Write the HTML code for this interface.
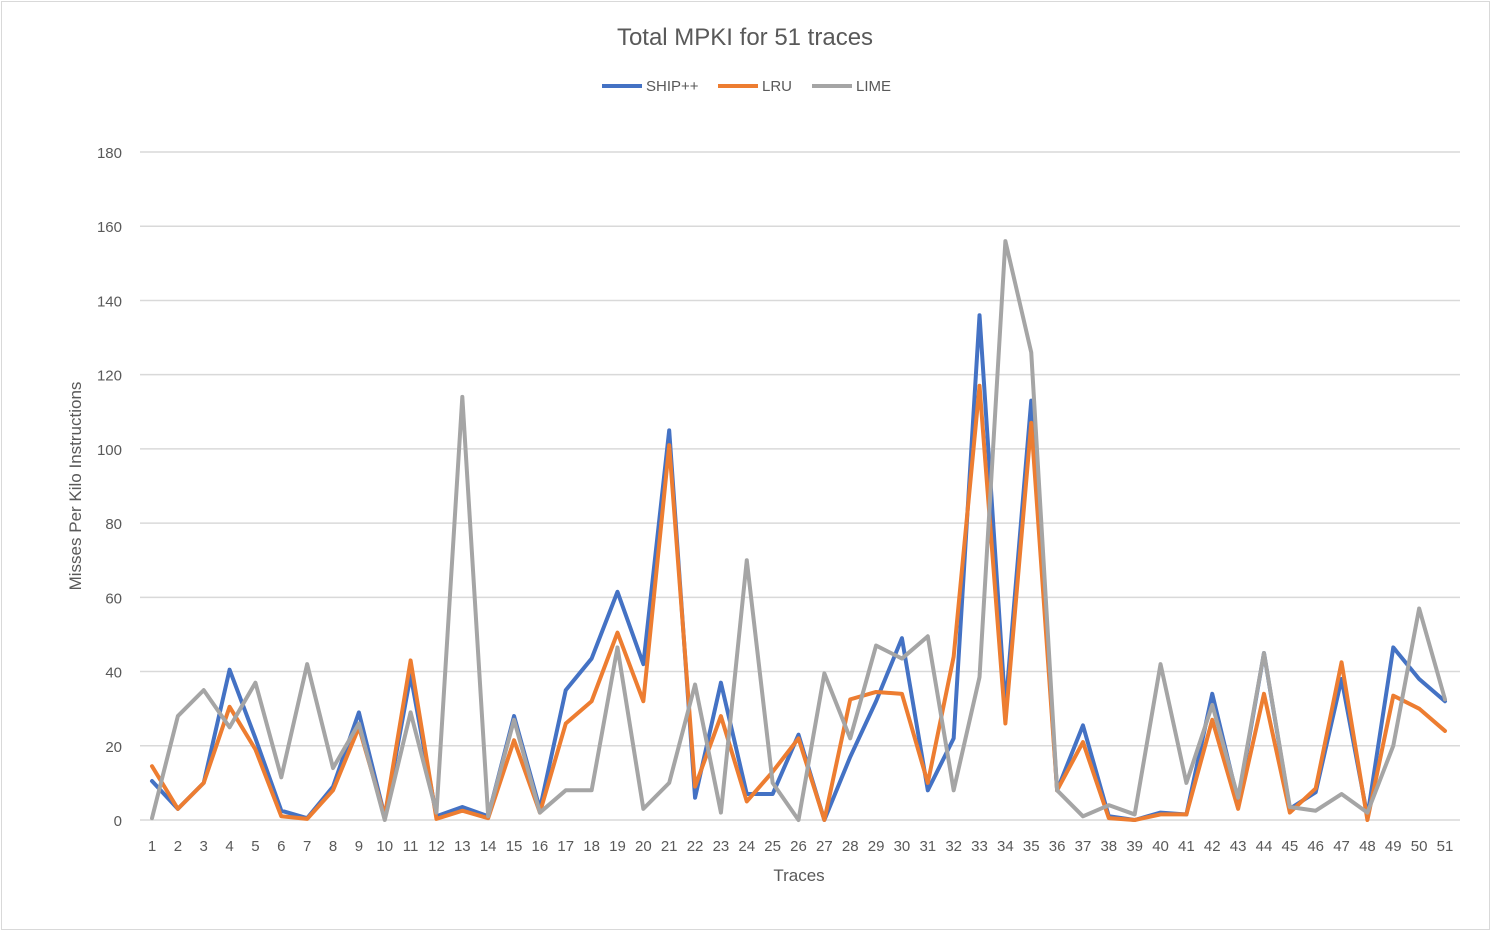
<!DOCTYPE html>
<html><head><meta charset="utf-8"><style>
body{margin:0;background:#fff;font-family:"Liberation Sans",sans-serif;}
svg text{font-family:"Liberation Sans",sans-serif;fill:#595959;}
</style></head><body>
<svg id="c" width="1491" height="931">
<rect x="1.5" y="1.5" width="1488" height="928" fill="#fff" stroke="#d9d9d9"/>
<text x="745" y="45" font-size="24" text-anchor="middle">Total MPKI for 51 traces</text>
<g id="grid"></g>
<g id="yt"></g>
<g id="xt"></g>
<g id="lines"></g>
<text x="0" y="0" font-size="17" text-anchor="middle" transform="translate(81,486) rotate(-90)">Misses Per Kilo Instructions</text>
<text x="799" y="881" font-size="17" text-anchor="middle">Traces</text>
<g>
<g><line x1="602" y1="86" x2="642" y2="86" stroke="#4472c4" stroke-width="4"/><text x="646" y="91" font-size="15">SHIP++</text></g>
<g><line x1="718" y1="86" x2="758" y2="86" stroke="#ed7d31" stroke-width="4"/><text x="762" y="91" font-size="15">LRU</text></g>
<g><line x1="812" y1="86" x2="852" y2="86" stroke="#a5a5a5" stroke-width="4"/><text x="856" y="91" font-size="15">LIME</text></g>
</g>
</svg>
<script>
const categories = Array.from({length:51},(_,i)=>String(i+1));
const yTicks = [0,20,40,60,80,100,120,140,160,180];
const shipValues = [10.5,3,10,40.5,22,2.5,0.5,9,29,1,39,1,3.5,1,28,3,35,43.5,61.5,42,105,6,37,7,7,23,0,17,32,49,8,22,136,30,113,8,25.5,1,0,2,1.5,34,5,45,3,7.5,38,1,46.5,38,32];
const lruValues = [14.5,3,10,30.5,19,1,0.3,8,25,1,43,0.3,2.5,0.5,21.5,2,26,32,50.5,32,101,9,28,5,13,22,0,32.5,34.5,34,10,44,117,26,107,8,21,0.5,0,1.5,1.5,27,3,34,2,8.5,42.5,0,33.5,30,24];
const limeValues = [0.5,28,35,25,37,11.5,42,14,26,0,29,2,114,1,27,2,8,8,46.5,3,10,36.5,2,70,10,0,39.5,22,47,43.5,49.5,8,38.5,156,126,8,1,4,1.5,42,10,31,6,45,3.5,2.5,7,2,20,57,32.5];
const NS="http://www.w3.org/2000/svg";
const x0=152,x1=1445,yb=820,yTop=152,yMax=180;
const xs=i=>x0+i*(x1-x0)/(categories.length-1);
const ys=v=>yb-v*(yb-yTop)/yMax;
const grid=document.getElementById('grid'),yt=document.getElementById('yt'),xt=document.getElementById('xt'),lines=document.getElementById('lines');
yTicks.forEach(t=>{
  const l=document.createElementNS(NS,'line');
  l.setAttribute('x1',140);l.setAttribute('x2',1460);l.setAttribute('y1',ys(t));l.setAttribute('y2',ys(t));
  l.setAttribute('stroke','#d9d9d9');l.setAttribute('stroke-width','1.5');
  
  
  grid.appendChild(l);
  const tx=document.createElementNS(NS,'text');
  tx.setAttribute('x',122);tx.setAttribute('y',ys(t)+6);tx.setAttribute('text-anchor','end');tx.setAttribute('font-size','15');
  tx.textContent=t;
  
  
  yt.appendChild(tx);
});
categories.forEach((c,i)=>{
  const tx=document.createElementNS(NS,'text');
  tx.setAttribute('x',xs(i));tx.setAttribute('y',851);tx.setAttribute('text-anchor','middle');tx.setAttribute('font-size','15');
  tx.textContent=c;
  
  
  xt.appendChild(tx);
});
function draw(vals,color,name){
  const p=document.createElementNS(NS,'polyline');
  p.setAttribute('points',vals.map((v,i)=>xs(i)+','+ys(v)).join(' '));
  p.setAttribute('fill','none');p.setAttribute('stroke',color);p.setAttribute('stroke-width','4');
  p.setAttribute('stroke-linejoin','round');p.setAttribute('stroke-linecap','round');
  
  
  lines.appendChild(p);
}
draw(shipValues,'#4472c4','ship-line');
draw(lruValues,'#ed7d31','lru-line');
draw(limeValues,'#a5a5a5','lime-line');
</script>
</body></html>
